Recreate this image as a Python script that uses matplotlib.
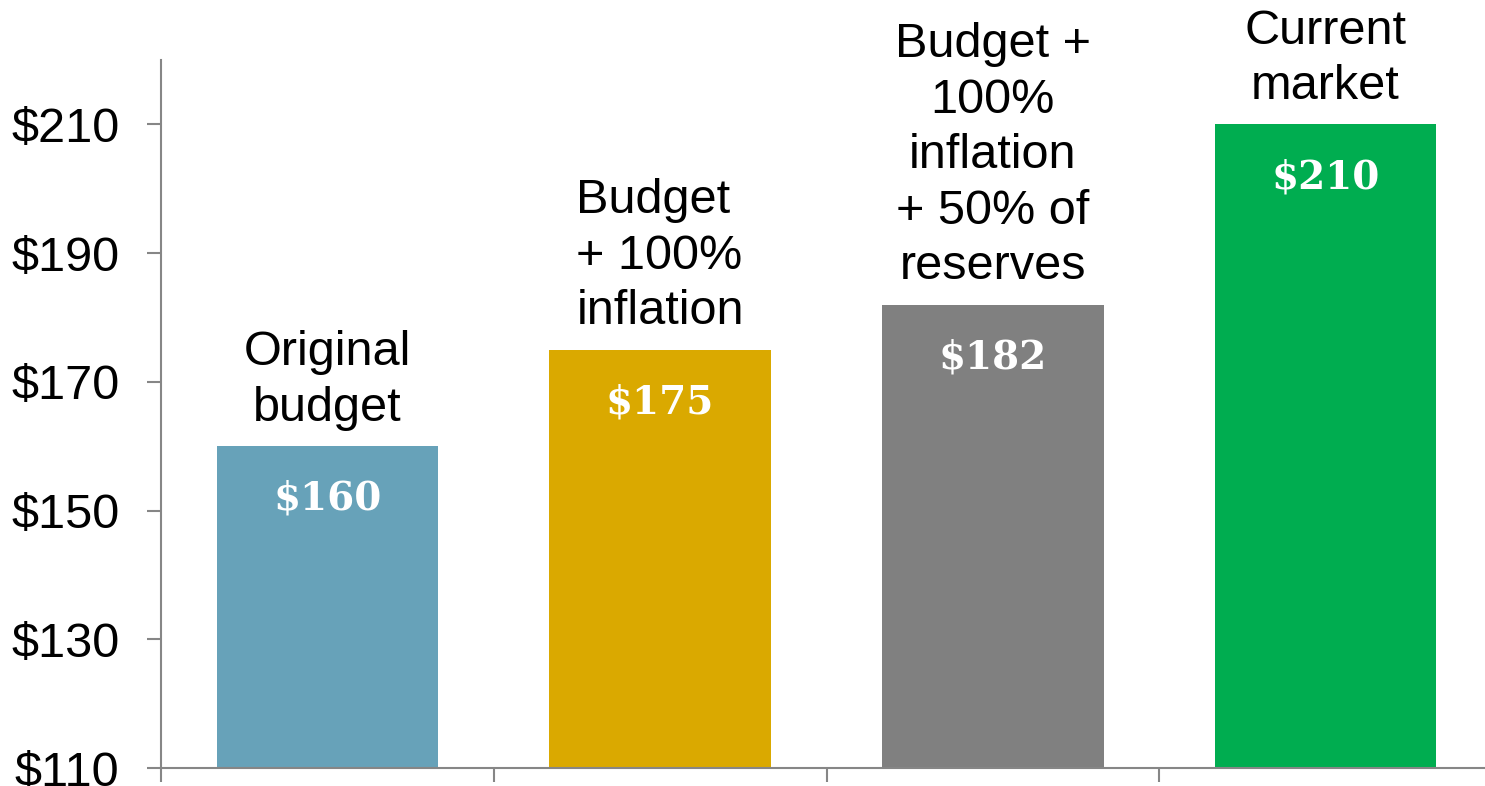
import numpy as np
import matplotlib.pyplot as plt

# chart data
categories = ['Original\nbudget', 'Budget\n+ 100%\ninflation',
              'Budget +\n100%\ninflation\n+ 50% of\nreserves', 'Current\nmarket']
values = [160, 175, 182, 210]
value_labels = ['$160', '$175', '$182', '$210']
colors = ['#67A2B9', '#DAA900', '#808080', '#00AD50']
label_align = ['center', 'left', 'center', 'center']
yticks = [110, 130, 150, 170, 190, 210]

plt.rcParams['font.family'] = ['Liberation Sans', 'DejaVu Sans']

fig = plt.figure(figsize=(14.85, 7.86), dpi=100)
ax = fig.add_axes([161 / 1485, 18 / 786, (1492 - 161) / 1485, (768 - 60) / 786])

x = np.arange(len(values))
ax.bar(x, np.array(values) - 110, bottom=110, width=0.665, color=colors, zorder=2)

for i, v in enumerate(values):
    ax.annotate(value_labels[i], (x[i], v), xytext=(0, -38), textcoords='offset points',
                ha='center', va='center', color='white', fontsize=28, fontweight='bold',
                family='DejaVu Serif')
    ax.annotate(categories[i], (x[i], v), xytext=(0, 11), textcoords='offset points',
                ha='center', va='bottom', fontsize=35, multialignment=label_align[i],
                linespacing=1.3)

ax.set_xlim(-0.5, 3.5)
ax.set_ylim(110, 220)
ax.set_yticks(yticks)
ax.set_yticklabels([f'${t}' for t in yticks], fontsize=35)
ax.set_xticks([-0.5, 0.5, 1.5, 2.5, 3.5])
ax.set_xticklabels([])

for s in ['top', 'right']:
    ax.spines[s].set_visible(False)
for s in ['left', 'bottom']:
    ax.spines[s].set_color('#868686')
    ax.spines[s].set_linewidth(1.5)
ax.tick_params(axis='both', color='#868686', width=1.5, length=10)
ax.tick_params(axis='y', pad=20)

fig.savefig('out.png', dpi=100)
